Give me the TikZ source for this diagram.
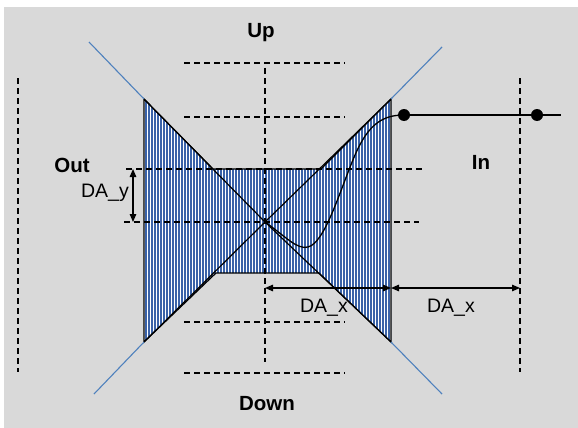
\documentclass[tikz,border=0pt]{standalone}
\usepackage{fontspec}
\setmainfont{Liberation Sans}
\usetikzlibrary{arrows.meta}
\definecolor{bg}{RGB}{217,217,217}
\definecolor{stripe}{RGB}{58,98,168}
\definecolor{wing}{RGB}{79,129,189}
\begin{document}
\begin{tikzpicture}[x=1pt,y=-1pt,
  dashline/.style={dash pattern=on 6pt off 4pt, line width=1.2pt},
  lbl/.style={font=\fontsize{19.5}{21}\selectfont, inner sep=0pt},
  blbl/.style={font=\bfseries\fontsize{20.5}{22}\selectfont, inner sep=0pt},
  dimarrow/.style={line width=1.3pt, {Triangle[length=8pt,width=6.5pt]}-{Triangle[length=8pt,width=6.5pt]}},
  dot/.style={circle, fill=black, inner sep=0pt, minimum size=12pt},
  outline/.style={line width=1.2pt, black},
  wingline/.style={wing, line width=1.1pt}]
\useasboundingbox (0,0) rectangle (578,428);
\fill[white] (0,0) rectangle (578,428);
\fill[bg] (4,7) rectangle (578,428);
% key points
\coordinate (TL) at (144,99);
\coordinate (BL) at (144,342);
\coordinate (TR) at (391,99);
\coordinate (BR) at (391,342);
\coordinate (C) at (265,222);
\coordinate (RTL) at (213,169);
\coordinate (RTR) at (321,169);
\coordinate (RBL) at (216,273);
\coordinate (RBR) at (319,273);
% hatched region
\fill[white] (TL) -- (RTL) -- (RTR) -- (TR) -- (BR) -- (RBR) -- (RBL) -- (BL) -- cycle;
\begin{scope}
  \clip (TL) -- (RTL) -- (RTR) -- (TR) -- (BR) -- (RBR) -- (RBL) -- (BL) -- cycle;
  \foreach \x in {146,149,...,392} \draw[stripe, line width=1.6pt] (\x,95) -- (\x,346);
\end{scope}
\draw[outline, line join=miter] (TL) -- (RTL) -- (RTR) -- (TR) -- (BR) -- (RBR) -- (RBL) -- (BL) -- cycle;
\draw[outline] (TL) -- (C) -- (BR);
\draw[outline] (BL) -- (C) -- (TR);
% blue extensions
\coordinate (W1) at (89,42);
\coordinate (W2) at (442,47);
\coordinate (W3) at (94,394);
\coordinate (W4) at (442,394);
\draw[wingline] (TL) -- (W1);
\draw[wingline] (TR) -- (W2);
\draw[wingline] (BL) -- (W3);
\draw[wingline] (BR) -- (W4);
% dashed lines
\coordinate (VL1) at (18,78);  \coordinate (VL2) at (18,372);
\coordinate (VR1) at (520,78); \coordinate (VR2) at (520,372);
\coordinate (VC1) at (265,68); \coordinate (VC2) at (265,362);
\draw[dashline] (VL1) -- (VL2);
\draw[dashline] (VR1) -- (VR2);
\draw[dashline] (VC1) -- (VC2);
\coordinate (H1a) at (184,63);  \coordinate (H1b) at (345,63);
\coordinate (H2a) at (184,117); \coordinate (H2b) at (345,117);
\coordinate (H3a) at (126,169); \coordinate (H3b) at (424,169);
\coordinate (H4a) at (124,222); \coordinate (H4b) at (419,222);
\coordinate (H5a) at (184,322); \coordinate (H5b) at (345,322);
\coordinate (H6a) at (184,373); \coordinate (H6b) at (345,373);
\draw[dashline] (H1a) -- (H1b);
\draw[dashline] (H2a) -- (H2b);
\draw[dashline] (H3a) -- (H3b);
\draw[dashline] (H4a) -- (H4b);
\draw[dashline] (H5a) -- (H5b);
\draw[dashline] (H6a) -- (H6b);
% curve and dots
\node[dot] (D1) at (404,115) {};
\node[dot] (D2) at (537,115) {};
\coordinate (E) at (561,115);
\draw[line width=1.3pt] (C) .. controls (285,236) and (297,250) .. (308,247)
  .. controls (325,243) and (340,190) .. (355,155)
  .. controls (368,125) and (382,115) .. (D1.center);
\draw[line width=1.3pt] (D1) -- (D2) -- (E);
% dimension arrows
\coordinate (Y1) at (133,169);
\coordinate (Y2) at (133,222);
\draw[dimarrow] (Y1) -- (Y2);
\coordinate (X1) at (265,288);
\coordinate (X2) at (391,288);
\coordinate (X3) at (520,288);
\draw[dimarrow] (X1) -- (X2);
\draw[dimarrow] (X2) -- (X3);
% labels
\node[blbl] (up) at (261,33) {Up};
\node[blbl] (down) at (267,404) {Down};
\node[blbl] (out) at (72,165) {Out};
\node[blbl] (in) at (481,162) {In};
\node[lbl] (day) at (105,193) {DA\_y};
\node[lbl] (dax1) at (324,308) {DA\_x};
\node[lbl] (dax2) at (451,308) {DA\_x};
\end{tikzpicture}
\end{document}
